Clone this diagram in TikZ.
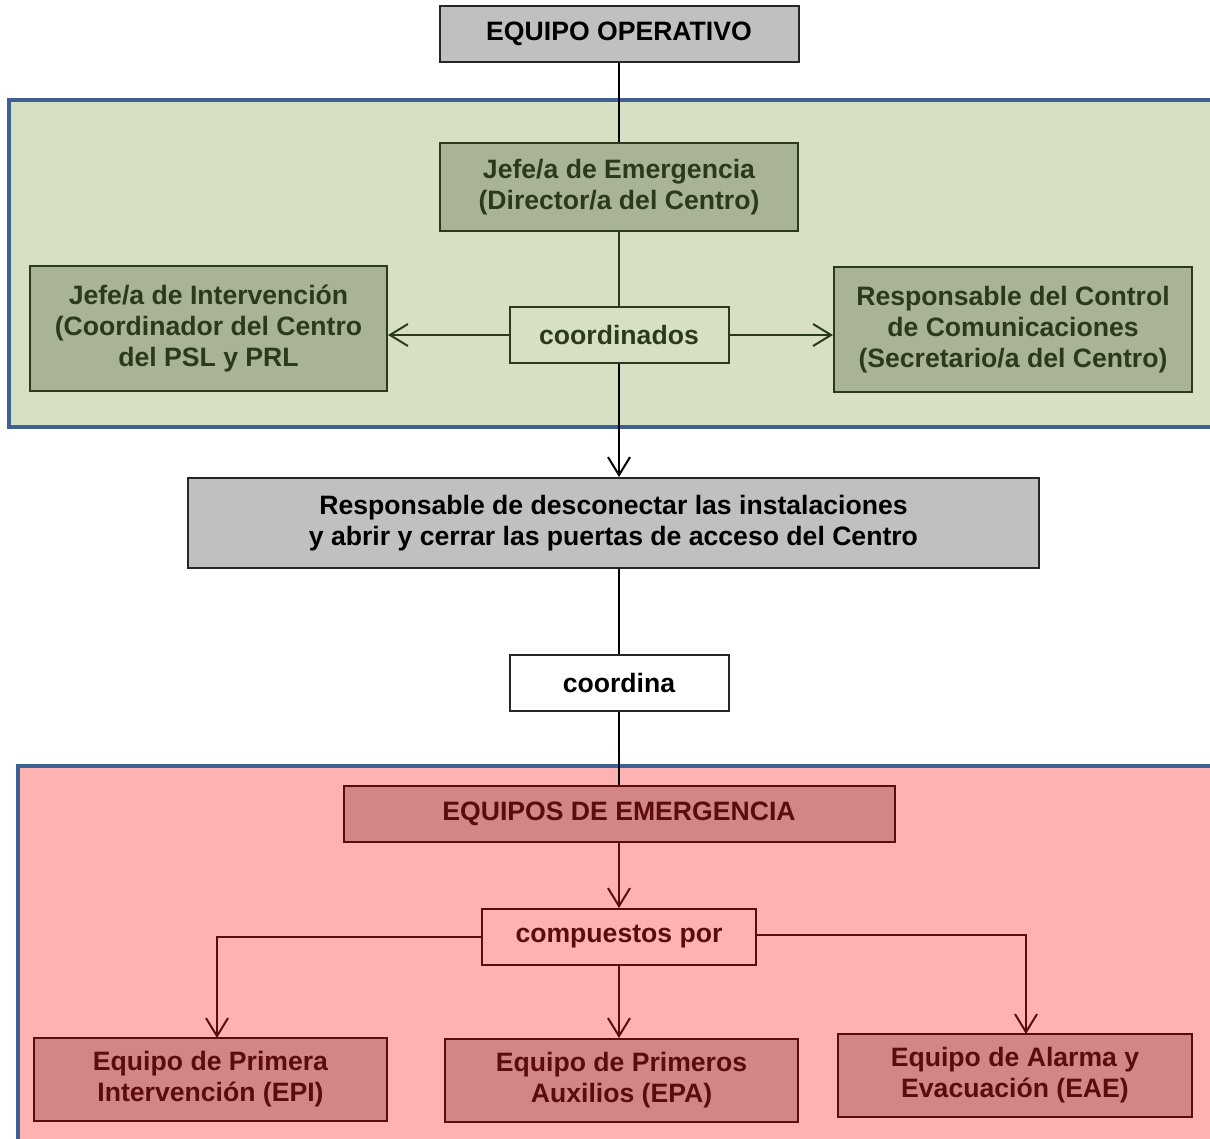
\documentclass[tikz,border=0pt]{standalone}
\usepackage{fontspec}
\setmainfont{Liberation Sans}
\usetikzlibrary{arrows.meta}

\definecolor{boxgray}{HTML}{C0C0C0}
\definecolor{panelgreen}{HTML}{D7DFC5}
\definecolor{boxgreen}{HTML}{A9B396}
\definecolor{inkgreen}{HTML}{2C3A1C}
\definecolor{panelpink}{HTML}{FFB2B2}
\definecolor{boxpink}{HTML}{D28686}
\definecolor{inkpink}{HTML}{5C0C0C}
\definecolor{panelblue}{HTML}{3E6193}

\begin{document}
\begin{tikzpicture}[x=0.5pt,y=-0.5pt,
    box/.style={draw,line width=1pt,align=center,inner sep=2pt,
      font=\fontsize{13.3}{15.5}\selectfont\bfseries},
    panel/.style={draw=panelblue,line width=2pt},
    link/.style={line width=1pt},
    arr/.style={link,-{Straight Barb[length=9pt,width=11pt,line width=1pt]}},
    grayb/.style={box,fill=boxgray,draw=black!85},
    greenb/.style={box,fill=boxgreen,draw=inkgreen,text=inkgreen},
    pinkb/.style={box,fill=boxpink,draw=inkpink,text=inkpink}]
  \useasboundingbox (0,0) rectangle (1210,1139);

  % panels behind everything
  \draw[panel,fill=panelgreen] (9,100) rectangle (1240,427);
  \draw[panel,fill=panelpink] (18,766) rectangle (1240,1170);

  % upper part
  \node[grayb,minimum width=179.5pt,minimum height=28pt] (operativo) at (619,34) {EQUIPO OPERATIVO};
  \node[greenb,minimum width=179pt,minimum height=44pt] (emergencia) at (619,187)
    {Jefe/a de Emergencia\\(Director/a del Centro)};
  \node[greenb,minimum width=178.5pt,minimum height=62.5pt] (intervencion) at (208.5,328.5)
    {Jefe/a de Intervención\\(Coordinador del Centro\\del PSL y PRL};
  \node[box,fill=panelgreen,draw=inkgreen,text=inkgreen,minimum width=109.5pt,minimum height=28pt]
    (coordinados) at (619,335) {coordinados};
  \node[greenb,minimum width=179pt,minimum height=62.5pt] (control) at (1013,329.5)
    {Responsable del Control\\de Comunicaciones\\(Secretario/a del Centro)};

  % middle part
  \node[grayb,minimum width=425.5pt,minimum height=45pt] (desconectar) at (613.5,523)
    {Responsable de desconectar las instalaciones\\y abrir y cerrar las puertas de acceso del Centro};
  \node[box,fill=white,draw=black!85,minimum width=109.5pt,minimum height=28pt] (coordina) at (619,683) {coordina};

  % lower part
  \node[pinkb,minimum width=275.5pt,minimum height=28pt] (equipos) at (619,814) {EQUIPOS DE EMERGENCIA};
  \node[box,fill=panelpink,draw=inkpink,text=inkpink,minimum width=137pt,minimum height=28pt]
    (compuestos) at (619,937) {compuestos por};
  \node[pinkb,minimum width=176.5pt,minimum height=41.5pt] (epi) at (210.5,1079.5)
    {Equipo de Primera\\Intervención (EPI)};
  \node[pinkb,minimum width=176.5pt,minimum height=41.5pt] (epa) at (621.5,1080.5)
    {Equipo de Primeros\\Auxilios (EPA)};
  \node[pinkb,minimum width=177pt,minimum height=41.5pt] (eae) at (1015,1075.5)
    {Equipo de Alarma y\\Evacuación (EAE)};
  \coordinate (epiin) at (217,1038);
  \coordinate (eaein) at (1026,1034);

  % connectors
  \draw[link,black] (operativo) -- (emergencia);
  \draw[link,inkgreen] (emergencia) -- (coordinados);
  \draw[arr,inkgreen] (coordinados.west) -- (coordinados.west -| intervencion.east);
  \draw[arr,inkgreen] (coordinados.east) -- (coordinados.east -| control.west);
  \draw[arr,black] (coordinados.south) -- (coordinados.south |- desconectar.north);
  \draw[link,black] (desconectar.south -| coordina) -- (coordina.north);
  \draw[link,black] (coordina) -- (equipos);
  \draw[arr,inkpink] (equipos) -- (compuestos);
  \draw[arr,inkpink] (compuestos.west) -| (epiin);
  \draw[arr,inkpink] ([yshift=1pt]compuestos.east) -| (eaein);
  \draw[arr,inkpink] (compuestos.south) -- (compuestos.south |- epa.north);
\end{tikzpicture}
\end{document}
